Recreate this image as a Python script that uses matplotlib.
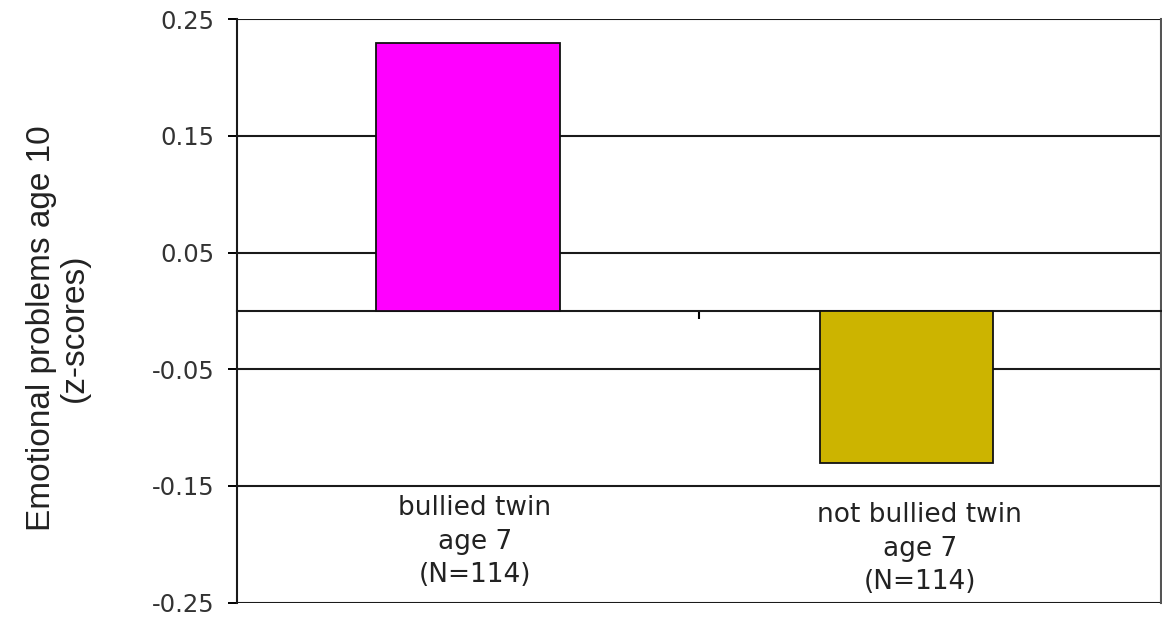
import matplotlib
matplotlib.use("Agg")
from matplotlib import pyplot as plt

# datos del gráfico
grupos = ["bullied twin\nage 7\n(N=114)", "not bullied twin\nage 7\n(N=114)"]
valores = [0.23, -0.13]
colores = ["#FF00FF", "#CCB400"]
ticks_y = [0.25, 0.15, 0.05, -0.05, -0.15, -0.25]

# posiciones de las barras y de los textos (eje de categorías 0..2)
pos_barras = [0.5, 1.45]
anchos = [0.4, 0.375]
pos_textos = [0.515, 1.478]
alto_textos = [-0.158, -0.164]

fig = plt.figure(figsize=(11.62, 6.2), dpi=100)
ax = fig.add_axes([0.204, 0.028, 0.795, 0.941])

ax.bar(pos_barras, valores, width=anchos, color=colores,
       edgecolor="#111111", linewidth=1.3, zorder=3)

ax.set_xlim(0, 2)
ax.set_ylim(-0.25, 0.25)
ax.set_yticks(ticks_y)
ax.set_yticklabels([f"{v:.2f}" for v in ticks_y], fontsize=17.5, color="#333333")
ax.tick_params(axis="y", direction="out", length=6.5, width=1.4, pad=10)

# cuadrícula horizontal negra
ax.grid(axis="y", color="#1a1a1a", linewidth=1.5, zorder=1)
ax.set_axisbelow(True)

# eje x en cero con una marca entre categorías
ax.spines["bottom"].set_position(("data", 0))
ax.spines["bottom"].set_linewidth(1.5)
ax.spines["bottom"].set_color("#1a1a1a")
ax.set_xticks([1.0])
ax.set_xticklabels([""])
ax.tick_params(axis="x", direction="out", length=6, width=1.5)

ax.spines["top"].set_visible(False)
ax.spines["left"].set_linewidth(1.5)
ax.spines["left"].set_color("#1a1a1a")
ax.spines["right"].set_linewidth(1.5)
ax.spines["right"].set_color("#555555")

# nombres de las categorías
for x, y, t in zip(pos_textos, alto_textos, grupos):
    ax.text(x, y, t, ha="center", va="top", fontsize=19,
            color="#222222", linespacing=1.38, zorder=4)

fig.text(0.05, 0.471, "Emotional problems age 10\n(z-scores)", rotation=90,
         ha="center", va="center", multialignment="center", fontsize=24,
         family="Liberation Sans", color="#222222", linespacing=1.1)

plt.savefig("out.png", dpi=100)
